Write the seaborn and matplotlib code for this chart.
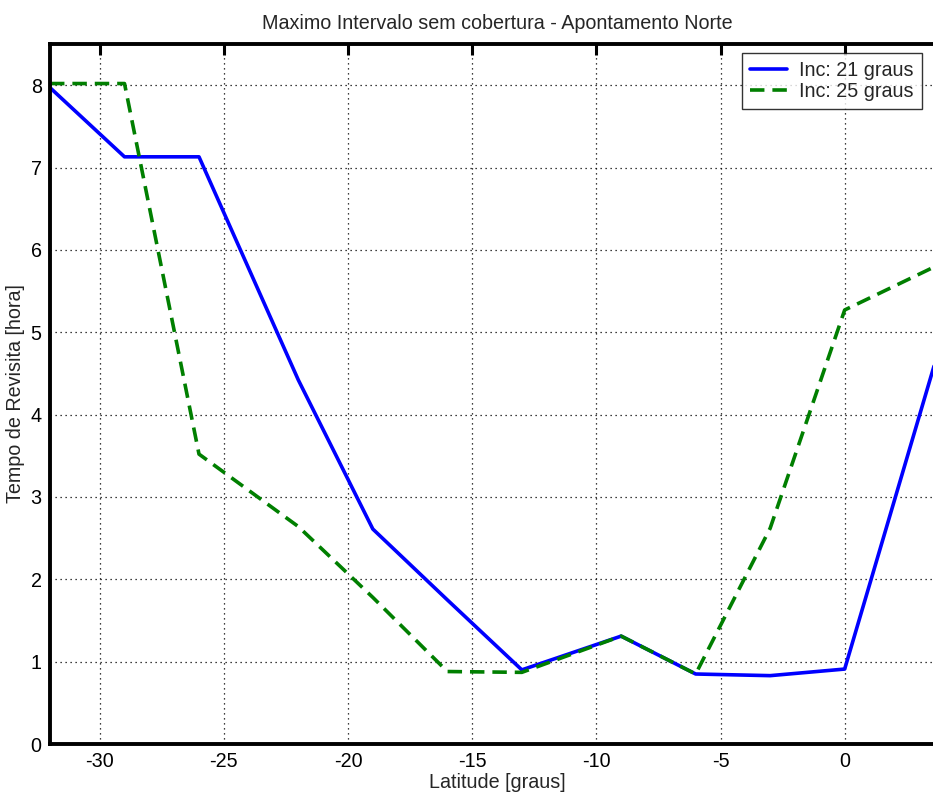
import matplotlib
matplotlib.use("Agg")
import matplotlib.pyplot as plt
import seaborn as sns
import numpy as np

latitude = [-32, -29, -26, -22, -19, -16, -13, -9, -6, -3, 0, 4]
inc21 = [7.97, 7.13, 7.13, 4.42, 2.61, 1.75, 0.90, 1.31, 0.85, 0.83, 0.91, 5.0]
inc25 = [8.02, 8.02, 3.52, 2.64, 1.78, 0.88, 0.87, 1.31, 0.85, 2.62, 5.27, 5.85]
labels = ["Inc: 21 graus", "Inc: 25 graus"]
xticks = [-30, -25, -20, -15, -10, -5, 0]
yticks = [0, 1, 2, 3, 4, 5, 6, 7, 8]

sns.set_style("white")
plt.rcParams['font.family'] = ['Liberation Sans', 'DejaVu Sans']

FS = 14.2
W, H = 933, 797
fig = plt.figure(figsize=(W / 100, H / 100), dpi=100)
left, right, top, bottom = 50, 944, 44, 744
ax = fig.add_axes([left / W, 1 - bottom / H, (right - left) / W, (bottom - top) / H])

sns.lineplot(x=latitude, y=inc21, ax=ax, color="#0000ff", lw=2.6, label=labels[0])
sns.lineplot(x=latitude, y=inc25, ax=ax, color="#007f00", lw=2.6, ls="--", label=labels[1])
for l in ax.lines:
    if l.get_linestyle() == "--":
        l.set_dashes((4, 2.2))

ax.set_xlim(-32, 4)
ax.set_ylim(0, 8.5)
ax.set_xticks(xticks)
ax.set_yticks(yticks)
ax.set_xticklabels([str(v) for v in xticks])
ax.grid(True, color="black", linestyle=(0, (1, 3)), linewidth=0.9)
ax.tick_params(direction="in", length=8, width=2.2, top=True, right=True,
               labelsize=FS, pad=6, colors="black")
for s in ax.spines.values():
    s.set_linewidth(2.8)
    s.set_color("black")

ax.set_title("Maximo Intervalo sem cobertura - Apontamento Norte", fontsize=FS, pad=11)
ax.set_xlabel("Latitude [graus]", fontsize=FS, labelpad=1)
ax.set_ylabel("Tempo de Revisita [hora]", fontsize=FS, labelpad=4)

leg = ax.legend(loc="upper left", bbox_to_anchor=(742 / W, 1 - 53 / H),
                bbox_transform=fig.transFigure, fontsize=FS, frameon=True,
                fancybox=False, borderpad=0.4, handlelength=1.9, handletextpad=0.6,
                labelspacing=0.1, borderaxespad=0)
leg.get_frame().set_edgecolor("black")
leg.get_frame().set_linewidth(1.0)

fig.savefig("out.png", dpi=100)
